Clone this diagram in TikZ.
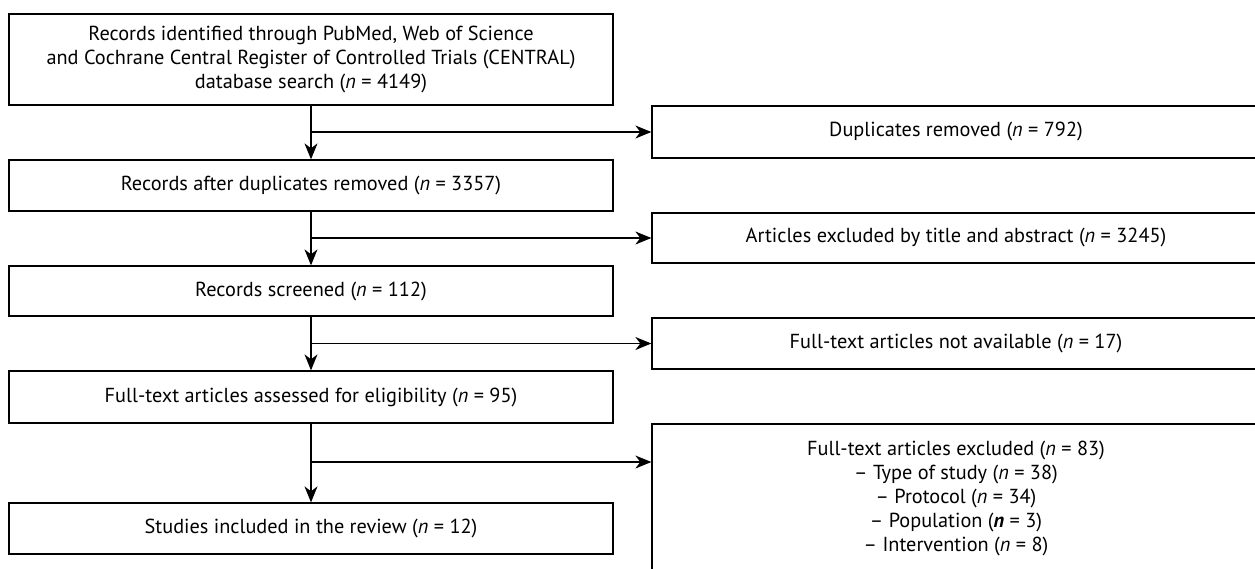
\documentclass[tikz,border=0pt]{standalone}
\usepackage{fontspec}
\setmainfont{PT Sans}
\usetikzlibrary{arrows.meta}
\tikzset{
  rec/.style={draw, line width=1.3pt, align=center, inner sep=0pt,
    font=\fontsize{20.3}{24}\selectfont},
  leftrec/.style={rec, minimum width=604pt},
  rightrec/.style={rec, minimum width=608pt},
  flow/.style={line width=1.3pt, -{Stealth[length=16pt,width=13pt,inset=5pt]}}
}
\begin{document}
\begin{tikzpicture}[x=1pt,y=-1pt]
\useasboundingbox (0,0) rectangle (1255,568);
% main column
\node[leftrec, minimum height=91pt] (ident) at (311,59.5)
  {Records identified through PubMed, Web of Science\\
   and Cochrane Central Register of Controlled Trials (CENTRAL)\\
   database search (\textit{n} = 4149)};
\node[leftrec, minimum height=51pt] (after) at (311,185.5)
  {Records after duplicates removed (\textit{n} = 3357)};
\node[leftrec, minimum height=50pt] (screen) at (311,291)
  {Records screened (\textit{n} = 112)};
\node[leftrec, minimum height=52pt] (assess) at (311,397)
  {Full-text articles assessed for eligibility (\textit{n} = 95)};
\node[leftrec, minimum height=51pt] (incl) at (311,528.5)
  {Studies included in the review (\textit{n} = 12)};
% excluded column
\node[rightrec, minimum height=52pt] (dupl) at (956,132)
  {Duplicates removed (\textit{n} = 792)};
\node[rightrec, minimum height=50pt] (title) at (956,238)
  {Articles excluded by title and abstract (\textit{n} = 3245)};
\node[rightrec, minimum height=51pt] (navail) at (956,343.5)
  {Full-text articles not available (\textit{n} = 17)};
\node[rightrec, minimum height=148pt] (fulltext) at (956,498)
  {Full-text articles excluded (\textit{n} = 83)\\
   -- Type of study (\textit{n} = 38)\\
   -- Protocol (\textit{n} = 34)\\
   -- Population (\textbf{\textit{n}} = 3)\\
   -- Intervention (\textit{n} = 8)};
% branch points
\coordinate (j1) at (ident.south |- dupl.west);
\coordinate (j2) at (after.south |- title.west);
\coordinate (j3) at (screen.south |- navail.west);
\coordinate (j4) at (311,462);
% arrows
\draw[flow] (ident) -- (after);
\draw[flow] (after) -- (screen);
\draw[flow] (screen) -- (assess);
\draw[flow] (assess) -- (incl);
\draw[flow] (j1) -- (dupl.west);
\draw[flow] (j2) -- (title.west);
\draw[flow] (j3) -- (navail.west);
\draw[flow] (j4) -- (j4 -| fulltext.west);
\end{tikzpicture}
\end{document}
